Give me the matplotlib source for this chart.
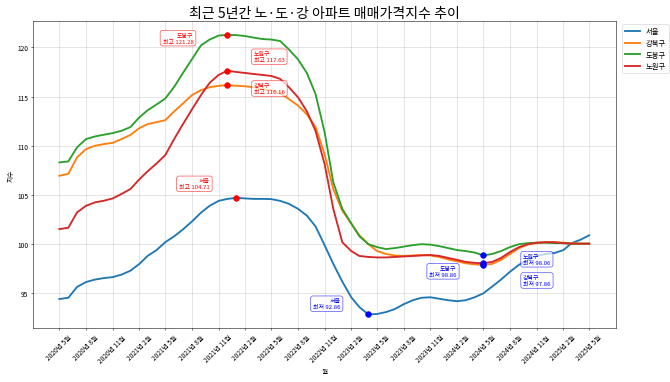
import matplotlib
matplotlib.use("Agg")
import matplotlib.pyplot as plt
import numpy as np
import pandas as pd

plt.rcParams['font.family'] = ['Noto Sans CJK KR', 'DejaVu Sans']
plt.rcParams['axes.unicode_minus'] = False

#==============================================================================
# 노·도·강 매매가격지수 (월별, 2020.05 ~ 2025.05)
#==============================================================================
months = pd.date_range('2020-05-01', '2025-05-01', freq='MS')

names = ["서울", "강북구", "도봉구", "노원구"]

seoul = [94.42, 94.55, 95.65, 96.15, 96.4, 96.55, 96.65, 96.9, 97.3, 98.0,
         98.8, 99.4, 100.2, 100.8, 101.5, 102.3, 103.2, 103.9, 104.4, 104.6,
         104.71, 104.65, 104.6, 104.6, 104.58, 104.4, 104.1, 103.6, 102.9, 101.8,
         99.9, 98.0, 96.2, 94.6, 93.6, 92.86, 92.9, 93.1, 93.4, 93.9,
         94.3, 94.55, 94.6, 94.45, 94.3, 94.2, 94.3, 94.6, 95.0, 95.7,
         96.4, 97.2, 97.9, 98.4, 98.8, 99.0, 99.1, 99.4, 100.1, 100.45, 100.9]

gangbuk = [106.95, 107.15, 108.82, 109.66, 110.0, 110.17, 110.3, 110.68, 111.1, 111.8,
           112.2, 112.4, 112.6, 113.5, 114.3, 115.15, 115.65, 115.95, 116.1, 116.16,
           116.1, 116.05, 115.95, 115.75, 115.65, 115.35, 114.75, 114.1, 113.2, 111.9,
           109.15, 105.6, 103.4, 102.1, 100.9, 100.0, 99.3, 99.0, 98.85, 98.8,
           98.85, 98.9, 98.85, 98.7, 98.45, 98.25, 98.05, 97.95, 97.86, 98.0,
           98.4, 99.0, 99.6, 99.95, 100.1, 100.2, 100.2, 100.15, 100.1, 100.05, 100.05]

dobong = [108.31, 108.41, 109.84, 110.68, 110.95, 111.12, 111.29, 111.52, 111.9, 112.9,
          113.6, 114.2, 114.8, 116.0, 117.4, 118.8, 120.2, 120.8, 121.2, 121.28,
          121.25, 121.15, 121.0, 120.85, 120.8, 120.65, 119.8, 118.8, 117.4, 115.25,
          111.4, 106.3, 103.6, 102.1, 100.8, 100.0, 99.7, 99.5, 99.6, 99.75,
          99.9, 100.0, 99.95, 99.8, 99.6, 99.4, 99.3, 99.15, 98.86, 99.0,
          99.3, 99.7, 100.0, 100.1, 100.15, 100.15, 100.1, 100.1, 100.05, 100.05, 100.05]

nowon = [101.53, 101.67, 103.23, 103.9, 104.25, 104.41, 104.65, 105.1, 105.6, 106.6,
         107.4, 108.2, 109.05, 110.7, 112.2, 113.7, 115.15, 116.4, 117.2, 117.63,
         117.5, 117.4, 117.3, 117.2, 117.1, 116.8, 115.95, 114.95, 113.5, 111.5,
         108.15, 103.6, 100.2, 99.3, 98.8, 98.7, 98.65, 98.65, 98.7, 98.75,
         98.8, 98.85, 98.9, 98.8, 98.6, 98.4, 98.2, 98.1, 98.06, 98.2,
         98.6, 99.2, 99.7, 100.0, 100.15, 100.2, 100.2, 100.1, 100.05, 100.05, 100.05]

allData = [seoul, gangbuk, dobong, nowon]

# annotation placement (offset points, ha) for max / min boxes
maxOffset = {"서울": ((-40, 21), "right"), "강북구": ((40, -5), "left"),
             "도봉구": ((-51, -5), "right"), "노원구": ((40, 21), "left")}
minOffset = {"서울": ((-42, 16), "right"), "강북구": ((60, -23), "left"),
             "도봉구": ((-40, -24), "right"), "노원구": ((60, 6), "left")}

myDpi = 670 / 14.
fig, ax = plt.subplots(figsize=(14, 383 / myDpi), dpi=myDpi)
fig.subplots_adjust(left=0.049, right=0.919, bottom=0.140, top=0.943)

for name, vals in zip(names, allData):
    ax.plot(months, vals, lw=2.8, label=name)

for name, vals in zip(names, allData):
    vals = np.array(vals)
    iMax = np.argmax(vals)
    iMin = np.argmin(vals)

    ax.plot(months[iMax], vals[iMax], "o", color="red", markersize=8.5, zorder=5)
    off, ha = maxOffset[name]
    ax.annotate("%s\n최고 %.2f" % (name, vals[iMax]), xy=(months[iMax], vals[iMax]),
                xytext=off, textcoords="offset points", ha=ha, va="center",
                fontsize=9, color="red",
                bbox=dict(boxstyle="round,pad=0.4", fc="white", ec="red", alpha=0.7))

    ax.plot(months[iMin], vals[iMin], "o", color="blue", markersize=8.5, zorder=5)
    off, ha = minOffset[name]
    ax.annotate("%s\n최저 %.2f" % (name, vals[iMin]), xy=(months[iMin], vals[iMin]),
                xytext=off, textcoords="offset points", ha=ha, va="center",
                fontsize=9, color="blue",
                bbox=dict(boxstyle="round,pad=0.4", fc="white", ec="blue", alpha=0.7))

ticks = months[::3]
ax.set_xticks(ticks)
ax.set_xticklabels(["%d년 %d월" % (d.year, d.month) for d in ticks], rotation=45)

ax.set_title("최근 5년간 노·도·강 아파트 매매가격지수 추이", fontsize=21)
ax.set_xlabel("월")
ax.set_ylabel("지수")
ax.grid(True, alpha=0.6)
ax.legend(loc="upper left", bbox_to_anchor=(1.005, 1), fontsize=11)

fig.savefig("out.png", dpi=myDpi)
